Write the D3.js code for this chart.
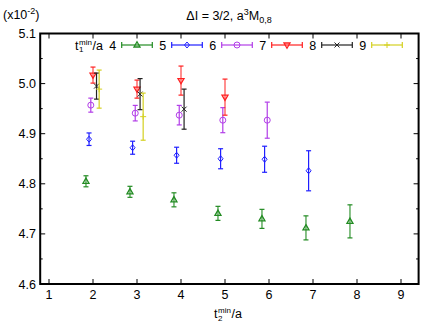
<!DOCTYPE html>
<html><head><meta charset="utf-8">
<script src="https://cdn.jsdelivr.net/npm/d3@7"></script>
<style>body{margin:0;background:#fff}svg{display:block;font-family:"Liberation Sans",Arial,Helvetica,sans-serif}</style>
</head><body><svg id="c" width="436" height="327"></svg>
<script>
// ---- data ----
const seriesLabels = ["4","5","6","7","8","9"];
const seriesColors = ["#228b22","#1f1fff","#b23ee8","#ff2020","#222222","#d4d020"];
const seriesMarkers = ["triUp","diamond","circle","triDown","cross","plus"];
const t2_s4 = [1.84,2.84,3.84,4.84,5.84,6.84,7.84];
const val_s4 = [4.805,4.784,4.768,4.741,4.730,4.712,4.725];
const err_s4 = [0.011,0.011,0.014,0.014,0.019,0.024,0.033];
const t2_s5 = [1.91,2.9,3.9,4.9,5.9,6.9];
const val_s5 = [4.889,4.872,4.857,4.850,4.849,4.826];
const err_s5 = [0.0125,0.013,0.016,0.020,0.026,0.040];
const t2_s6 = [1.95,2.96,3.96,4.95,5.96];
const val_s6 = [4.957,4.941,4.937,4.927,4.927];
const err_s6 = [0.014,0.0155,0.0195,0.025,0.036];
const t2_s7 = [2.0,3.0,4.0,5.0];
const val_s7 = [5.017,4.989,5.006,4.973];
const err_s7 = [0.016,0.018,0.029,0.036];
const t2_s8 = [2.08,3.07,4.07];
const val_s8 = [4.995,4.979,4.949];
const err_s8 = [0.026,0.031,0.040];
const t2_s9 = [2.14,3.14];
const val_s9 = [4.989,4.934];
const err_s9 = [0.038,0.047];
const xTicks = [1,2,3,4,5,6,7,8,9];
const yTicks = [4.6,4.7,4.8,4.9,5.0,5.1];
const yTickLabels = ["4.6","4.7","4.8","4.9","5.0","5.1"];
const yMinor = [4.65,4.75,4.85,4.95,5.05];

const barStyle = [{w:1.8,o:0.6},{w:1.2,o:1},{w:1.2,o:1},{w:2,o:0.5},{w:1.2,o:1},{w:1.2,o:1}];

const series = [
  {x:t2_s4,y:val_s4,e:err_s4},{x:t2_s5,y:val_s5,e:err_s5},{x:t2_s6,y:val_s6,e:err_s6},
  {x:t2_s7,y:val_s7,e:err_s7},{x:t2_s8,y:val_s8,e:err_s8},{x:t2_s9,y:val_s9,e:err_s9}
].map((s,i)=>({...s,label:seriesLabels[i],color:seriesColors[i],marker:seriesMarkers[i],bs:barStyle[i]}));

const svg = d3.select("#c");
const L=40.2, R=418.6, T=33.5, B=284;
const x = d3.scaleLinear().domain([0.8,9.4]).range([L,R]);
const y = d3.scaleLinear().domain([4.6,5.1]).range([B,T]);

// ticks (inward, mirrored)
const g = svg.append("g").attr("stroke","#000").attr("stroke-width",1);
xTicks.forEach(v=>{
  g.append("line").attr("x1",x(v)).attr("x2",x(v)).attr("y1",B).attr("y2",B-5);
  g.append("line").attr("x1",x(v)).attr("x2",x(v)).attr("y1",T).attr("y2",T+5);
});
yTicks.forEach(v=>{
  g.append("line").attr("x1",L).attr("x2",L+5).attr("y1",y(v)).attr("y2",y(v));
  g.append("line").attr("x1",R).attr("x2",R-5).attr("y1",y(v)).attr("y2",y(v));
});
yMinor.forEach(v=>{
  g.append("line").attr("x1",L).attr("x2",L+2.5).attr("y1",y(v)).attr("y2",y(v));
  g.append("line").attr("x1",R).attr("x2",R-2.5).attr("y1",y(v)).attr("y2",y(v));
});

// tick labels
svg.selectAll(".xl").data(xTicks).enter().append("text")
  .attr("x",d=>x(d)).attr("y",299).attr("text-anchor","middle").attr("font-size",12.5).text(d=>d);
svg.selectAll(".yl").data(yTicks).enter().append("text")
  .attr("x",36).attr("y",d=>y(d)+4.5).attr("text-anchor","end").attr("font-size",12.5).text((d,i)=>yTickLabels[i]);

// marker drawing
function marker(sel,type,color,cx,cy){
  if(type==="triUp") sel.append("path").attr("d",`M${cx},${cy-3.2}L${cx+3},${cy+2}L${cx-3},${cy+2}Z`).attr("fill","none").attr("stroke",color).attr("stroke-width",1.3);
  else if(type==="triDown") sel.append("path").attr("d",`M${cx},${cy+3.2}L${cx+3},${cy-2}L${cx-3},${cy-2}Z`).attr("fill","none").attr("stroke",color).attr("stroke-width",1.3);
  else if(type==="diamond") sel.append("path").attr("d",`M${cx},${cy-3}L${cx+2.5},${cy}L${cx},${cy+3}L${cx-2.5},${cy}Z`).attr("fill","none").attr("stroke",color).attr("stroke-width",1);
  else if(type==="circle") sel.append("circle").attr("cx",cx).attr("cy",cy).attr("r",3).attr("fill","none").attr("stroke",color).attr("stroke-width",1);
  else if(type==="cross") sel.append("path").attr("d",`M${cx-2.5},${cy-2.5}L${cx+2.5},${cy+2.5}M${cx-2.5},${cy+2.5}L${cx+2.5},${cy-2.5}`).attr("stroke",color).attr("stroke-width",1);
  else if(type==="plus") sel.append("path").attr("d",`M${cx-3},${cy}L${cx+3},${cy}M${cx},${cy-3}L${cx},${cy+3}`).attr("stroke",color).attr("stroke-width",1);
}

// data
series.forEach(s=>{
  const sg=svg.append("g");
  s.x.forEach((xv,i)=>{
    const cx=x(xv), y1=y(s.y[i]+s.e[i]), y2=y(s.y[i]-s.e[i]);
    sg.append("line").attr("x1",cx).attr("x2",cx).attr("y1",y1).attr("y2",y2).attr("stroke",s.color).attr("stroke-width",s.bs.w).attr("stroke-opacity",s.bs.o);
    sg.append("line").attr("x1",cx-2.5).attr("x2",cx+2.5).attr("y1",y1).attr("y2",y1).attr("stroke",s.color).attr("stroke-width",1.2);
    sg.append("line").attr("x1",cx-2.5).attr("x2",cx+2.5).attr("y1",y2).attr("y2",y2).attr("stroke",s.color).attr("stroke-width",1.2);
    marker(sg,s.marker,s.color,cx,y(s.y[i]));
  });
});

// legend
const ly=45;
svg.append("text").attr("x",75).attr("y",ly+4.5).attr("font-size",12.5).text("t");
svg.append("text").attr("x",79).attr("y",ly+7).attr("font-size",8).text("1");
svg.append("text").attr("x",79).attr("y",ly-0.5).attr("font-size",8).text("min");
svg.append("text").attr("x",92.5).attr("y",ly+4.5).attr("font-size",12.5).text("/a");
series.forEach((s,i)=>{
  const bx=112.7+i*50;
  svg.append("text").attr("x",bx).attr("y",ly+4.5).attr("text-anchor","middle").attr("font-size",12.5).text(s.label);
  const x1=bx+9, x2=bx+39.6;
  const lg=svg.append("g");
  lg.append("line").attr("x1",x1).attr("x2",x2).attr("y1",ly).attr("y2",ly).attr("stroke",s.color).attr("stroke-width",1.2);
  lg.append("line").attr("x1",x1).attr("x2",x1).attr("y1",ly-3).attr("y2",ly+3).attr("stroke",s.color).attr("stroke-width",1.2);
  lg.append("line").attr("x1",x2).attr("x2",x2).attr("y1",ly-3).attr("y2",ly+3).attr("stroke",s.color).attr("stroke-width",1.2);
  marker(lg,s.marker,s.color,(x1+x2)/2,ly);
});

// frame
svg.append("rect").attr("x",L).attr("y",T).attr("width",R-L).attr("height",B-T).attr("fill","none").attr("stroke","#000").attr("stroke-width",2);

// title
const title=svg.append("text").attr("x",229).attr("y",20).attr("text-anchor","middle").attr("font-size",12.5);
title.append("tspan").text("ΔI = 3/2, a");
title.append("tspan").attr("font-size",9).attr("dy",-5).text("3");
title.append("tspan").attr("dy",5).text("M");
title.append("tspan").attr("font-size",9).attr("dy",3).text("0,8");

// y unit
const yu=svg.append("text").attr("x",3).attr("y",19).attr("font-size",12.5);
yu.append("tspan").text("(x10");
yu.append("tspan").attr("font-size",9).attr("dy",-5).text("-2");
yu.append("tspan").attr("dy",5).text(")");

// x label
svg.append("text").attr("x",214).attr("y",318).attr("font-size",12.5).text("t");
svg.append("text").attr("x",218).attr("y",321).attr("font-size",8).text("2");
svg.append("text").attr("x",218).attr("y",313).attr("font-size",8).text("min");
svg.append("text").attr("x",231.5).attr("y",318).attr("font-size",12.5).text("/a");
</script></body></html>
